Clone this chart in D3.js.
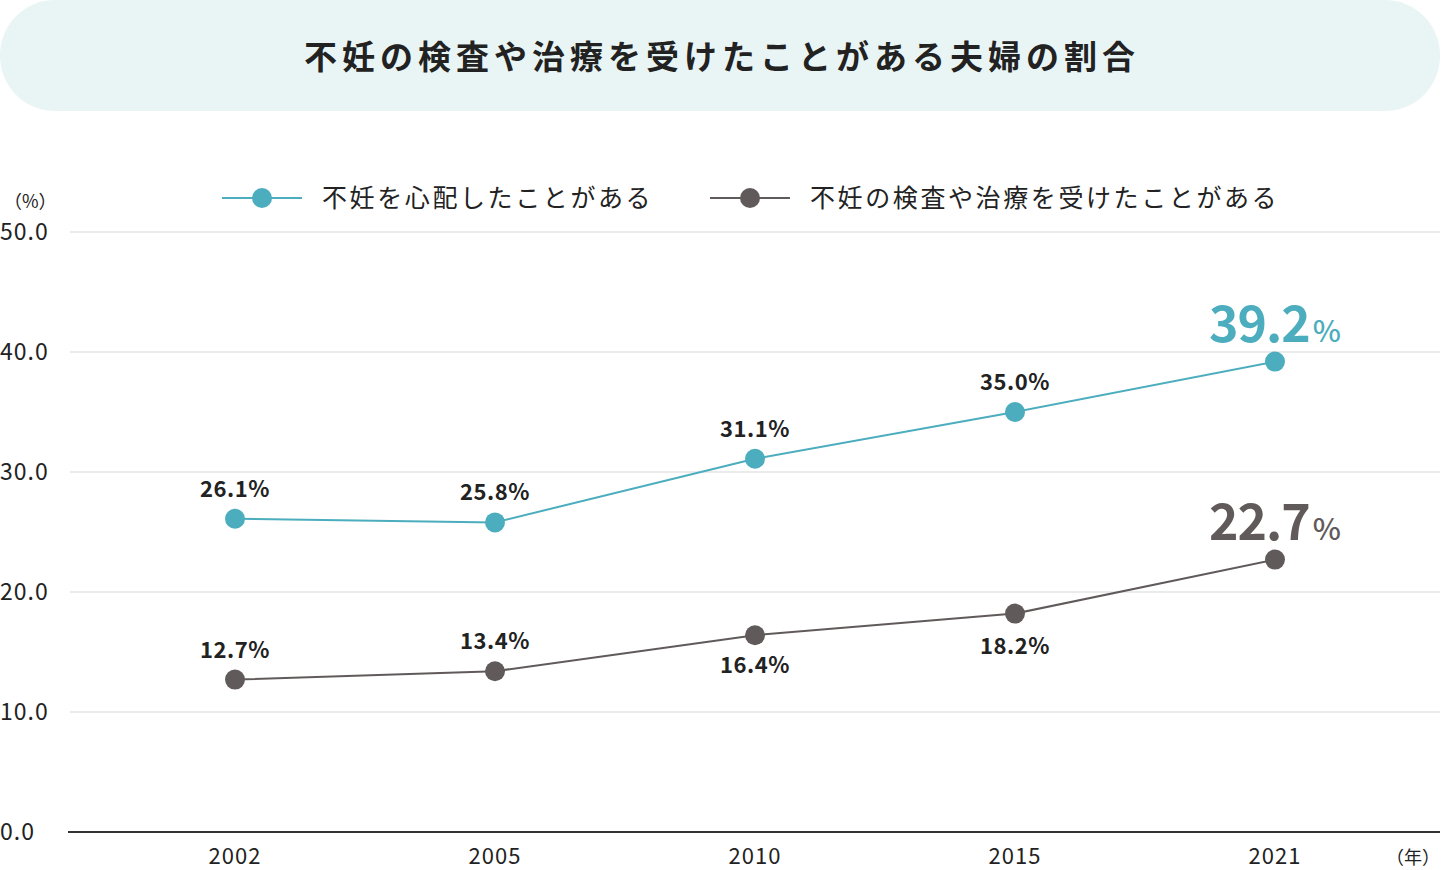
<!DOCTYPE html>
<html><head><meta charset="utf-8">
<script src="https://cdn.jsdelivr.net/npm/d3@7"></script>
<style>body{margin:0;background:#fff;} text{font-family:"Noto Sans CJK JP","Noto Sans",sans-serif;}</style>
</head><body>
<svg id="chart" width="1441" height="870"></svg>
<script>
const years = ['2002', '2005', '2010', '2015', '2021'];
const worried = [26.1, 25.8, 31.1, 35.0, 39.2];
const treated = [12.7, 13.4, 16.4, 18.2, 22.7];
const yTicks = [0, 10, 20, 30, 40, 50];
const seriesNames = ['不妊を心配したことがある', '不妊の検査や治療を受けたことがある'];
const colors = ['#4badbd', '#615a5a'];

const svg = d3.select('#chart');
svg.append('rect').attr('x', 0).attr('y', 0).attr('width', 1440).attr('height', 111)
  .attr('rx', 55).attr('fill', '#e9f5f4');
svg.append('text').attr('x', 722).attr('y', 69).attr('text-anchor', 'middle')
  .attr('font-size', 33).attr('font-weight', 700).attr('letter-spacing', 5).attr('fill', '#222')
  .text('不妊の検査や治療を受けたことがある夫婦の割合');

const x = d3.scalePoint().domain(years).range([235, 1275]);
const y = d3.scaleLinear().domain([0, 50]).range([832, 232]);

// grid
svg.selectAll('.grid').data(yTicks.slice(1)).enter().append('line')
  .attr('x1', 70).attr('x2', 1440).attr('y1', d => y(d)).attr('y2', d => y(d))
  .attr('stroke', '#ebebeb').attr('stroke-width', 2);
svg.append('line').attr('x1', 68).attr('x2', 1440).attr('y1', y(0)).attr('y2', y(0))
  .attr('stroke', '#333').attr('stroke-width', 2);
svg.selectAll('.yl').data(yTicks).enter().append('text')
  .attr('x', 0).attr('y', d => y(d) + 8).attr('font-size', 23).attr('letter-spacing', 1).attr('fill', '#222')
  .text(d => d.toFixed(1));
svg.append('text').attr('x', 4).attr('y', 208).attr('font-size', 18).attr('fill', '#222').text('（%）');
svg.selectAll('.xl').data(years).enter().append('text')
  .attr('x', d => x(d)).attr('y', 864).attr('text-anchor', 'middle').attr('font-size', 22).attr('letter-spacing', 1).attr('fill', '#222')
  .text(d => d);
svg.append('text').attr('x', 1440).attr('y', 864).attr('text-anchor', 'end').attr('font-size', 18).attr('fill', '#222').text('（年）');

// legend
const legX = [222, 710];
seriesNames.forEach((n, i) => {
  const g = svg.append('g').attr('transform', `translate(${legX[i]},198)`);
  g.append('line').attr('x1', 0).attr('x2', 80).attr('stroke', colors[i]).attr('stroke-width', 2);
  g.append('circle').attr('cx', 40).attr('r', 10).attr('fill', colors[i]);
  g.append('text').attr('x', 100).attr('y', 9).attr('font-size', 25).attr('letter-spacing', 2.6).attr('fill', '#222').text(n);
});

const line = d3.line().x((d, i) => x(years[i])).y(d => y(d));
const labelOffsets = [[-30, -30, -30, -30], [-30, -30, 30, 32]];
[worried, treated].forEach((vals, s) => {
  svg.append('path').attr('d', line(vals)).attr('fill', 'none').attr('stroke', colors[s]).attr('stroke-width', 2);
  svg.selectAll(null).data(vals).enter().append('circle')
    .attr('cx', (d, i) => x(years[i])).attr('cy', d => y(d)).attr('r', 10).attr('fill', colors[s]);
  vals.forEach((v, i) => {
    if (i === vals.length - 1) {
      const t = svg.append('text').attr('x', x(years[i])).attr('y', y(v) - 20)
        .attr('text-anchor', 'middle').attr('fill', colors[s]).attr('font-weight', 700);
      t.append('tspan').attr('font-size', 50).attr('letter-spacing', -1).text(v.toFixed(1));
      t.append('tspan').attr('font-size', 30).attr('font-weight', 500).attr('dx', 3).text('%');
    } else {
      const off = labelOffsets[s][i];
      svg.append('text').attr('x', x(years[i])).attr('y', y(v) + off + 8)
        .attr('text-anchor', 'middle').attr('font-size', 22).attr('font-weight', 700).attr('letter-spacing', 0.5).attr('fill', '#222')
        .text(v.toFixed(1) + '%');
    }
  });
});
</script>
</body></html>
